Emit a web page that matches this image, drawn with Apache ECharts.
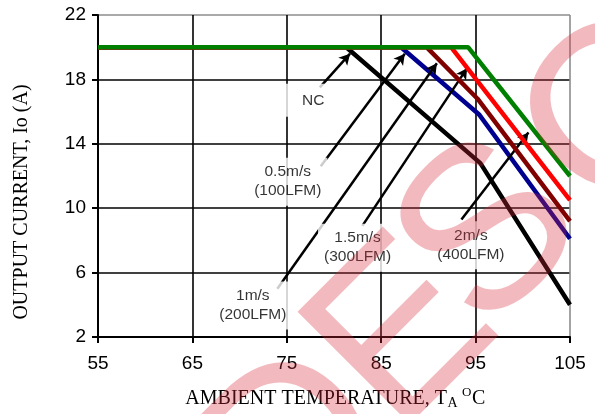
<!DOCTYPE html>
<html lang="en">
<head>
    <meta charset="UTF-8">
    <title>Output Current Derating</title>
    <script src="https://cdn.jsdelivr.net/npm/echarts@6/dist/echarts.min.js"></script>
    <style>
        body { margin: 0; background: #fff; }
        #chart { width: 595px; height: 414px; }
    </style>
</head>
<body>
<div id="chart"></div>
<script>
    // 曲线数据 (温度 / 电流)
    var ncTemp = [55, 81.3, 95.5, 105];
    var ncCurr = [20, 20, 12.8, 4];
    var v05Temp = [55, 87.1, 95.4, 105];
    var v05Curr = [20, 20, 15.8, 8.1];
    var v1Temp = [55, 89.8, 95.2, 105];
    var v1Curr = [20, 20, 16.8, 9.2];
    var v15Temp = [55, 92.4, 105];
    var v15Curr = [20, 20, 10.5];
    var v2Temp = [55, 94.2, 105];
    var v2Curr = [20, 20, 12];

    var xTicks = [55, 65, 75, 85, 95, 105];
    var yTicks = [2, 6, 10, 14, 18, 22];

    // 标注文字和箭头 (数据坐标)
    var noteText = ['NC', '0.5m/s\n(100LFM)', '1m/s\n(200LFM)', '1.5m/s\n(300LFM)', '2m/s\n(400LFM)'];
    var noteX = [76.95, 75.1, 71.4, 82.5, 94.5];
    var noteY = [16.7, 11.65, 3.95, 7.55, 7.7];
    var arrowFromX = [78.5, 78.6, 74.0, 83.0, 93.5];
    var arrowFromY = [17.5, 12.6, 5.0, 8.9, 9.3];
    var arrowToX = [81.7, 87.5, 90.9, 94.1, 100.6];
    var arrowToY = [19.6, 19.6, 19.0, 18.7, 14.7];

    function pairs(xs, ys) {
        return xs.map(function (x, i) { return [x, ys[i]]; });
    }

    var chart = echarts.init(document.getElementById('chart'));

    var lineDefs = [
        { name: 'NC', x: ncTemp, y: ncCurr, color: '#000000' },
        { name: '0.5m/s', x: v05Temp, y: v05Curr, color: '#000090' },
        { name: '1m/s', x: v1Temp, y: v1Curr, color: '#800000' },
        { name: '1.5m/s', x: v15Temp, y: v15Curr, color: '#ff0000' },
        { name: '2m/s', x: v2Temp, y: v2Curr, color: '#008000' }
    ];

    var series = lineDefs.map(function (d, i) {
        return {
            name: d.name,
            type: 'line',
            data: pairs(d.x, d.y),
            symbol: 'none',
            z: 3 + i,
            lineStyle: { color: d.color, width: 4.5, cap: 'butt' }
        };
    });

    // 箭头
    series.push({
        type: 'line',
        data: [],
        z: 10,
        markLine: {
            silent: true,
            animation: false,
            symbol: ['none', 'arrow'],
            symbolSize: [9, 11],
            label: { show: false },
            lineStyle: { color: '#000', width: 2.5, type: 'solid' },
            data: arrowFromX.map(function (x, i) {
                return [{ coord: [x, arrowFromY[i]] }, { coord: [arrowToX[i], arrowToY[i]] }];
            })
        }
    });

    // 标注文字 (白底遮住网格线)
    series.push({
        type: 'scatter',
        symbolSize: 0,
        z: 9,
        data: noteX.map(function (x, i) {
            var item = { value: [x, noteY[i], noteText[i]] };
            if (i === 0) item.label = { padding: [7, 6, 7, 22] };
            return item;
        }),
        label: {
            show: true,
            position: 'inside',
            formatter: function (p) { return p.value[2]; },
            fontFamily: 'Liberation Sans, Arial',
            fontSize: 15.5,
            lineHeight: 19,
            color: '#000',
            backgroundColor: '#fff',
            padding: [5, 6]
        }
    });

    // 水印 (单个字母)
    function mark(ch, x, y) {
        return {
            type: 'text', x: x, y: y, rotation: Math.PI / 4, z: 100, silent: true,
            style: { text: ch, font: '231px "Liberation Sans"', fill: 'rgba(215, 40, 55, 0.32)', align: 'center', verticalAlign: 'middle' }
        };
    }

    var option = {
        animation: false,
        grid: { left: 98, right: 25, top: 15, bottom: 77 },
        xAxis: {
            type: 'value',
            min: xTicks[0],
            max: xTicks[xTicks.length - 1],
            interval: 10,
            axisLine: { lineStyle: { color: '#000', width: 2 } },
            axisTick: { length: 6, lineStyle: { color: '#000', width: 2 } },
            axisLabel: { color: '#000', fontSize: 19, fontFamily: 'Liberation Sans, Arial', margin: 17 },
            splitLine: {
                show: true,
                lineStyle: { color: ['#000', '#000', '#000', '#000', '#000', '#8c8c8c'], width: 1.6 }
            }
        },
        yAxis: {
            type: 'value',
            min: yTicks[0],
            max: yTicks[yTicks.length - 1],
            interval: 4,
            axisLine: { show: true, lineStyle: { color: '#000', width: 2 } },
            axisTick: { show: true, length: 6, lineStyle: { color: '#000', width: 2 } },
            axisLabel: { color: '#000', fontSize: 19, fontFamily: 'Liberation Sans, Arial', margin: 12 },
            splitLine: {
                show: true,
                lineStyle: { color: ['#000', '#000', '#000', '#000', '#000', '#8c8c8c'], width: 1.6 }
            }
        },
        graphic: [
            {
                type: 'text', x: 22, y: 202, rotation: Math.PI / 2,
                style: { text: 'OUTPUT CURRENT, Io (A)', font: '20px "Liberation Serif"', fill: '#000', align: 'center', verticalAlign: 'middle' }
            },
            {
                type: 'text', x: 447, y: 399,
                style: { text: 'AMBIENT TEMPERATURE, T', font: '20px "Liberation Serif"', fill: '#000', align: 'right', verticalAlign: 'middle' }
            },
            {
                type: 'text', x: 447.5, y: 403,
                style: { text: 'A', font: '14px "Liberation Serif"', fill: '#000', align: 'left', verticalAlign: 'middle' }
            },
            {
                type: 'text', x: 462, y: 393,
                style: { text: 'O', font: '13px "Liberation Serif"', fill: '#000', align: 'left', verticalAlign: 'middle' }
            },
            {
                type: 'text', x: 472, y: 399,
                style: { text: 'C', font: '20px "Liberation Serif"', fill: '#000', align: 'left', verticalAlign: 'middle' }
            },
            mark('D', 299, 451),
            mark('E', 406, 338),
            mark('S', 493, 237),
            mark('C', 620, 120)
        ],
        series: series
    };

    chart.setOption(option);
</script>
</body>
</html>
